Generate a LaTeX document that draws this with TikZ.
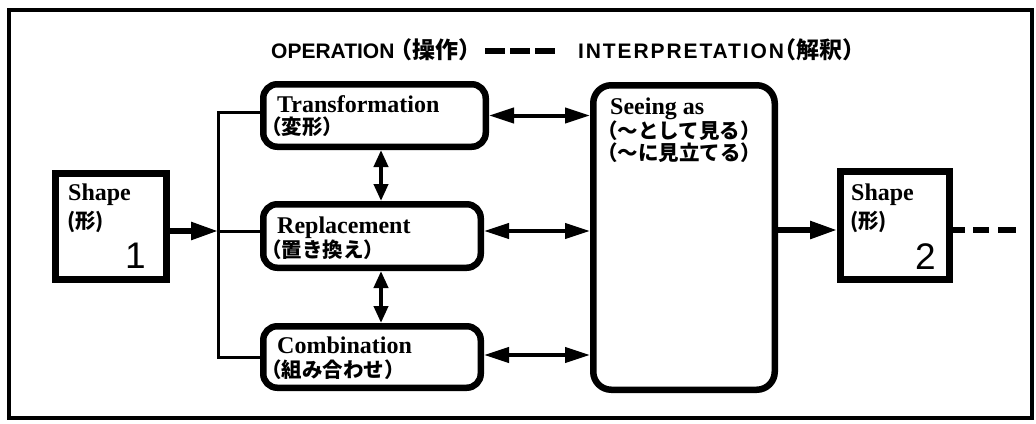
\documentclass[tikz,border=0pt]{standalone}
\usepackage{fontspec}
\setmainfont{Liberation Serif}
\newfontfamily\hel{Liberation Sans}
\newfontfamily\helsp{Liberation Sans}[LetterSpace=9]
\newfontfamily\jp{Noto Sans CJK JP}
\usetikzlibrary{arrows.meta}
\begin{document}
\begin{tikzpicture}[x=1pt,y=-1pt,
  sqbox/.style={draw, line width=7pt, inner sep=0pt},
  rbox/.style={draw, line width=6.5pt, rounded corners=14pt, inner sep=0pt},
  lat/.style={inner sep=0pt, anchor=base west, font=\fontsize{24}{26}\selectfont\bfseries},
  jpt/.style={inner sep=0pt, anchor=base west, font=\fontsize{20.5}{23}\selectfont\jp\bfseries},
  num/.style={inner sep=0pt, anchor=base east, font=\fontsize{37}{40}\selectfont\hel},
  head/.style={inner sep=0pt, anchor=base west, font=\fontsize{21}{24}\selectfont\hel\bfseries},
  headsp/.style={inner sep=0pt, anchor=base west, font=\fontsize{21}{24}\selectfont\helsp\bfseries},
  jph/.style={inner sep=0pt, anchor=base west, font=\fontsize{23}{25}\selectfont\jp\bfseries},
  bus/.style={line width=3pt},
  dbl/.style={line width=4pt, {Triangle[length=25pt,width=15pt]}-{Triangle[length=25pt,width=15pt]}},
  vdbl/.style={line width=4pt, {Triangle[length=17pt,width=14pt]}-{Triangle[length=17pt,width=14pt]}},
  flow/.style={line width=5.5pt, -{Triangle[length=27pt,width=17pt]}},
  dashline/.style={line width=6.5pt}
]
\useasboundingbox (0,0) rectangle (1036,423);
\fill[white] (0,0) rectangle (1036,423);
\draw[line width=3.5pt] (9,10) rectangle (1032,418);

% header
\node[head] (op) at (271,58) {OPERATION};
\node[jph] (opj) at ([xshift=-5pt]op.base east) {（操作）};
\coordinate (hd1) at (485,51);
\coordinate (hd2) at (555,51);
\draw[dashline, dash pattern=on 20pt off 5pt] (hd1) -- (hd2);
\node[headsp] (in) at (578,58) {INTERPRETATION};
\node[jph] (inj) at ([xshift=-11pt]in.base east) {（解釈）};

% boxes
\node[sqbox, minimum width=111pt, minimum height=106pt] (S1) at (111,226.5) {};
\node[rbox, minimum width=222.5pt, minimum height=62.5pt] (T) at (374.5,115.5) {};
\node[rbox, minimum width=217.5pt, minimum height=63.5pt] (R) at (372,236) {};
\node[rbox, minimum width=217.5pt, minimum height=61.5pt] (C) at (372,357) {};
\node[rbox, minimum width=181.5pt, minimum height=304.5pt, rounded corners=18pt] (SA) at (684,237.5) {};
\node[sqbox, minimum width=109pt, minimum height=108pt] (S2) at (895,225.5) {};

% texts
\node[lat] at (68,200) {Shape};
\node[jpt] at (67,228) {(形)};
\node[num] at (146,268) {1};
\node[lat] at (851,200) {Shape};
\node[jpt] at (850,228) {(形)};
\node[num] at (936,269) {2};

\node[lat] at (277,112) {Transformation};
\node[jpt] at (261,134) {（変形）};
\node[lat] at (277,233) {Replacement};
\node[jpt] at (261,257) {（置き換え）};
\node[lat] at (277,353) {Combination};
\node[jpt] at (261,377) {（組み合わせ）};
\node[lat] at (610,114) {Seeing as};
\node[jpt] at (597,138) {（〜として見る）};
\node[jpt] at (597,160) {（〜に見立てる）};

% connectors
\coordinate (j) at (218,231);
\coordinate (vx) at (381,0);
\draw[bus] ([yshift=3pt]T.west) -| (j) |- (C.west);
\draw[bus] (j) -- ([yshift=5pt]R.west);
\draw[flow] (S1.east |- j) -- (j);
\draw[vdbl] (T.south -| vx) -- (R.north -| vx);
\draw[vdbl] (R.south -| vx) -- (C.north -| vx);
\draw[dbl] (T.east) -- (T.east -| SA.west);
\draw[dbl] ([yshift=5pt]R.east) -- ([yshift=5pt]R.east -| SA.west);
\draw[dbl] ([yshift=2pt]C.east) -- ([yshift=2pt]C.east -| SA.west);
\path ([yshift=-4.5pt]S2.west) coordinate (s2in);
\draw[flow] (SA.east |- s2in) -- (s2in);
\coordinate (tail) at (1016,230);
\draw[dashline, line width=6pt, dash pattern=on 12pt off 8pt on 16pt off 9pt on 18pt off 60pt] (S2.east |- tail) -- (tail);
\end{tikzpicture}
\end{document}
